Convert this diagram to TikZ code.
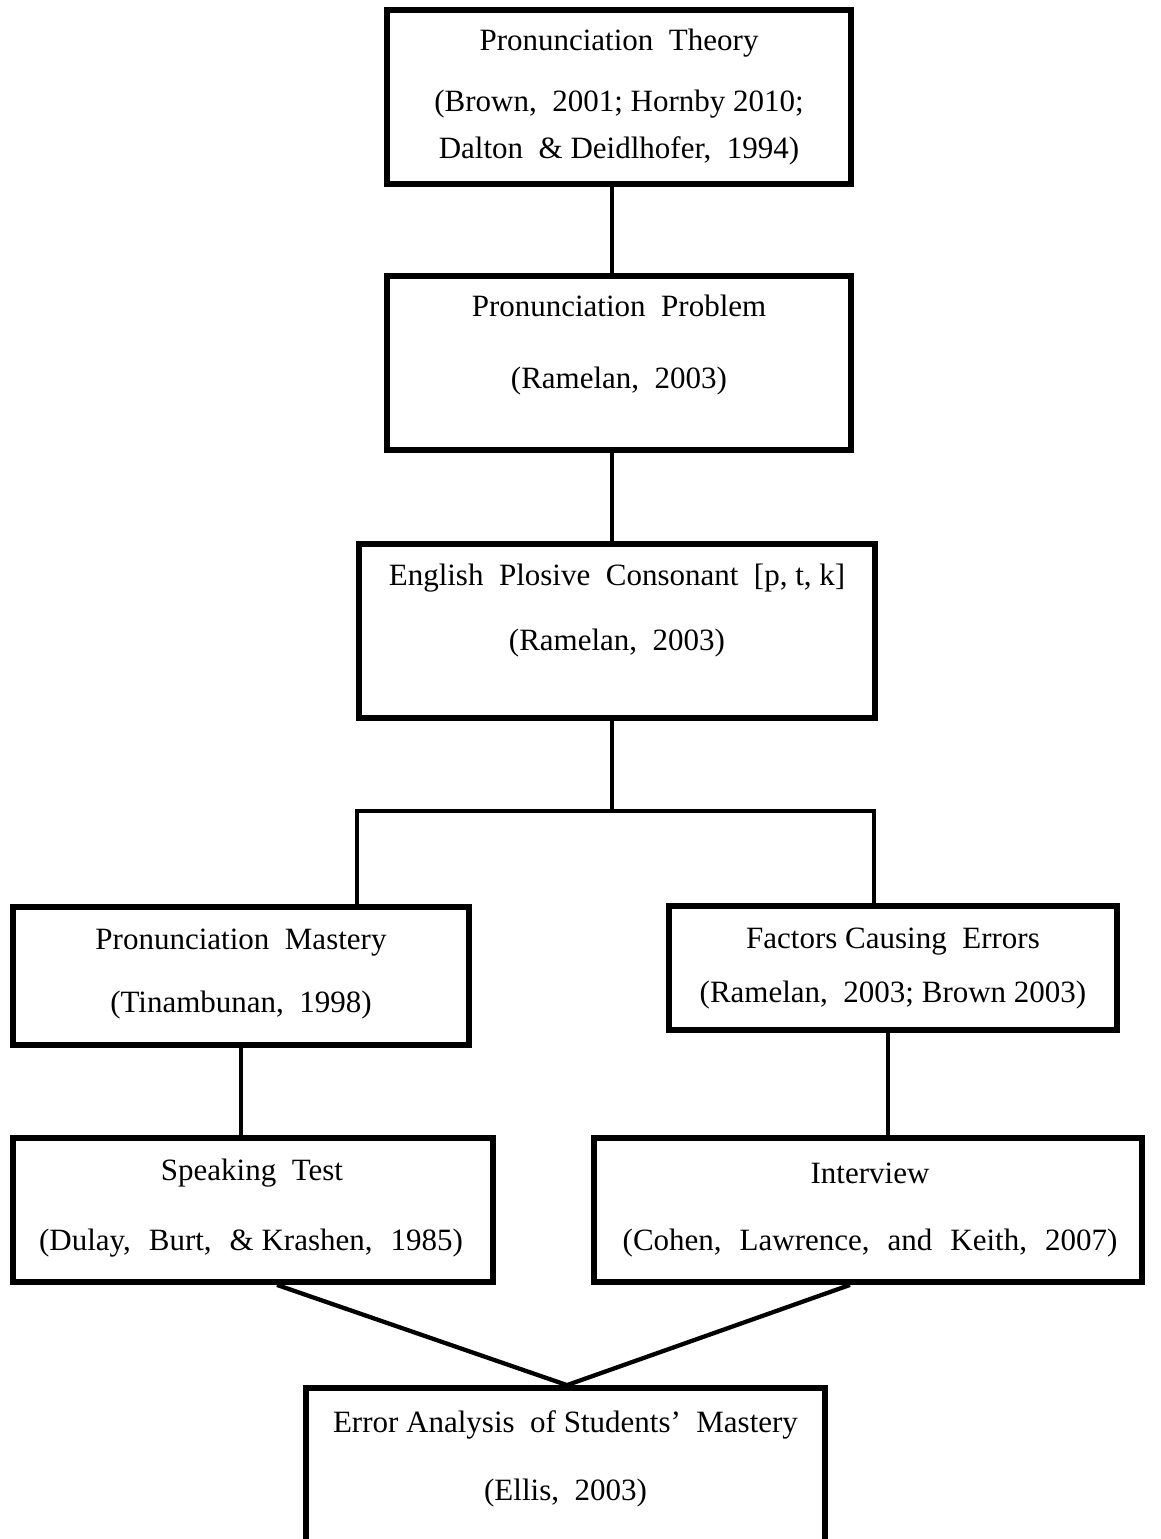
\documentclass[tikz,border=0pt]{standalone}
\usepackage{fontspec}
\setmainfont{Liberation Serif}
\newcommand{\ws}{\hspace{0.5em}}
\newcommand{\wws}{\hspace{0.58em}}
\begin{document}
\begin{tikzpicture}[x=1pt,y=-1pt,
  bx/.style={draw, line width=5.8pt, rectangle, inner sep=0pt},
  tx/.style={font=\fontsize{31}{37}\selectfont, inner sep=0pt, anchor=center},
  ln/.style={line width=4.3pt}]
\useasboundingbox (0,0) rectangle (1160,1539);
\clip (0,0) rectangle (1160,1539);
% boxes
\node[bx, minimum width=464pt, minimum height=174pt] (b1) at (619,97) {};
\node[bx, minimum width=464pt, minimum height=174pt] (b2) at (619,363) {};
\node[bx, minimum width=516pt, minimum height=174pt] (b3) at (617,631) {};
\node[bx, minimum width=456pt, minimum height=138pt] (b4) at (241,976) {};
\node[bx, minimum width=448pt, minimum height=124pt] (b5) at (893,968) {};
\node[bx, minimum width=480pt, minimum height=144pt] (b6) at (253,1210) {};
\node[bx, minimum width=548pt, minimum height=144pt] (b7) at (868,1210) {};
\node[bx, minimum width=519pt, minimum height=170pt] (b8) at (565.5,1473) {};
% texts
\node[tx] (t1a) at (619,43) {Pronunciation\ws Theory};
\node[tx] (t1b) at (619,104) {(Brown,\ws 2001; Hornby 2010;};
\node[tx] (t1c) at (619,151) {Dalton\ws \& Deidlhofer,\ws 1994)};
\node[tx] (t2a) at (619,306) {Pronunciation\ws Problem};
\node[tx] (t2b) at (619,381) {(Ramelan,\ws 2003)};
\node[tx] (t3a) at (617,578) {English\ws Plosive\ws Consonant\ws [p, t, k]};
\node[tx] (t3b) at (617,643) {(Ramelan,\ws 2003)};
\node[tx] (t4a) at (241,943) {Pronunciation\ws Mastery};
\node[tx] (t4b) at (241,1005) {(Tinambunan,\ws 1998)};
\node[tx] (t5a) at (893,942) {Factors Causing\ws Errors};
\node[tx] (t5b) at (893,995) {(Ramelan,\ws 2003; Brown 2003)};
\node[tx] (t6a) at (252,1173) {Speaking\ws Test};
\node[tx] (t6b) at (251,1243) {(Dulay,\wws Burt,\wws \& Krashen,\wws 1985)};
\node[tx] (t7a) at (870,1173) {Interview};
\node[tx] (t7b) at (870,1243) {(Cohen,\wws Lawrence,\wws and\wws Keith,\wws 2007)};
\node[tx] (t8a) at (565.5,1425) {Error Analysis\ws of Students’\ws Mastery};
\node[tx] (t8b) at (565.5,1493) {(Ellis,\ws 2003)};
% junction coordinates
\coordinate (cx) at (612,0);
\coordinate (fork) at (612,811);
\coordinate (fl) at (357,811);
\coordinate (fr) at (874,811);
\coordinate (v4) at (241,0);
\coordinate (v5) at (888,0);
\coordinate (d6) at (277,0);
\coordinate (d7) at (850,0);
\coordinate (mx) at (567,0);
% connectors
\draw[ln] (b1.south -| cx) -- (b2.north -| cx);
\draw[ln] (b2.south -| cx) -- (b3.north -| cx);
\draw[ln] (b3.south -| cx) -- (fork);
\draw[ln] (b4.north -| fl) -- (fl) -- (fr) -- (b5.north -| fr);
\draw[ln] (b4.south -| v4) -- (b6.north -| v4);
\draw[ln] (b5.south -| v5) -- (b7.north -| v5);
\draw[ln] (b6.south -| d6) -- (b8.north -| mx) -- (b7.south -| d7);
\end{tikzpicture}
\end{document}
